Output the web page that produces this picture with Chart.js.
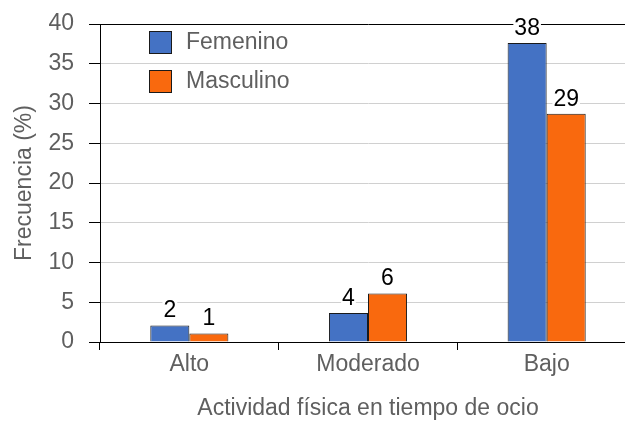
<!DOCTYPE html>
<html>
<head>
<meta charset="utf-8">
<script src="https://cdn.jsdelivr.net/npm/chart.js@4"></script>
<style>
  html, body { margin: 0; padding: 0; background: #fff; overflow: hidden; }
  #wrap { width: 625px; height: 422px; overflow: hidden; }
</style>
</head>
<body>
<!-- the x axis runs a little past the right edge in the original, so the canvas is wider and clipped -->
<div id="wrap"><canvas id="chart" width="636" height="422"></canvas></div>
<script>
// data
const categories = ["Alto", "Moderado", "Bajo"];
const femenino = [2.07, 3.65, 37.6];
const masculino = [1.06, 6.1, 28.7];
const yTicks = [0, 5, 10, 15, 20, 25, 30, 35, 40];

const FONT = "'Liberation Sans', Arial, sans-serif";
const BLUE = "#4472C4";
const ORANGE = "#F9690E";
const GREY = "#5f5f5f";
const FS = 23;

// value labels above bars
const barLabels = {
    id: "barLabels",
    afterDatasetsDraw(chart) {
        const ctx = chart.ctx;
        ctx.save();
        ctx.font = FS + "px " + FONT;
        ctx.textAlign = "center";
        ctx.textBaseline = "bottom";
        chart.data.datasets.forEach((ds, i) => {
            chart.getDatasetMeta(i).data.forEach((bar, j) => {
                const txt = String(Math.round(ds.data[j]));
                const y = bar.y - 3;
                const m = ctx.measureText(txt);
                ctx.fillStyle = "#fff";
                ctx.fillRect(bar.x - m.width / 2 - 1, y - m.actualBoundingBoxAscent - 1, m.width + 2, m.actualBoundingBoxAscent + 2);
                ctx.fillStyle = "#000";
                ctx.fillText(txt, bar.x, y);
            });
        });
        ctx.restore();
    }
};

// legend drawn inside the plot area
const insideLegend = {
    id: "insideLegend",
    afterDraw(chart) {
        const ctx = chart.ctx;
        ctx.save();
        ctx.font = FS + "px " + FONT;
        ctx.textBaseline = "middle";
        chart.data.datasets.forEach((ds, i) => {
            const y = 31 + i * 39;
            ctx.fillStyle = ds.backgroundColor;
            ctx.fillRect(149, y, 23, 23);
            ctx.strokeStyle = "#1a1a1a";
            ctx.lineWidth = 1;
            ctx.strokeRect(149.5, y + 0.5, 22, 22);
            ctx.fillStyle = GREY;
            ctx.fillText(ds.label, 186, y + 12);
        });
        ctx.restore();
    }
};

new Chart(document.getElementById("chart"), {
    type: "bar",
    data: {
        labels: categories,
        datasets: [
            { label: "Femenino", data: femenino, backgroundColor: BLUE, borderColor: "#1a1a1a", borderWidth: 1 },
            { label: "Masculino", data: masculino, backgroundColor: ORANGE, borderColor: "#1a1a1a", borderWidth: 1 }
        ]
    },
    options: {
        responsive: false,
        animation: false,
        devicePixelRatio: 1,
        categoryPercentage: 0.437,
        barPercentage: 1,
        layout: { padding: { top: 24, right: 0, left: 0, bottom: 0 } },
        plugins: {
            legend: { display: false },
            tooltip: { enabled: false }
        },
        scales: {
            x: {
                afterFit: s => { s.height = 80; s.paddingLeft = 0; s.paddingRight = 0; },
                grid: { offset: true, drawOnChartArea: false, drawTicks: true, tickLength: 8, tickColor: "#000" },
                border: { color: "#000" },
                ticks: { color: GREY, font: { family: FONT, size: FS }, padding: 1 },
                title: { display: true, text: "Actividad física en tiempo de ocio", color: GREY, font: { family: FONT, size: FS }, padding: { top: 0, bottom: 0 } }
            },
            y: {
                min: 0,
                max: 40,
                afterFit: s => { s.width = 100; s.paddingTop = 0; s.paddingBottom = 0; },
                afterBuildTicks: s => { s.ticks = yTicks.map(v => ({ value: v })); },
                grid: {
                    color: c => (c.tick && (c.tick.value === 40 || c.tick.value === 0)) ? "#000" : "#d0d0d0",
                    tickColor: "#000",
                    tickLength: 11
                },
                border: { color: "#000" },
                ticks: { color: GREY, font: { family: FONT, size: FS }, padding: 15 },
                title: { display: true, text: "Frecuencia (%)", color: GREY, font: { family: FONT, size: FS }, padding: { top: 11, bottom: 0 } }
            }
        }
    },
    plugins: [barLabels, insideLegend]
});
</script>
</body>
</html>
